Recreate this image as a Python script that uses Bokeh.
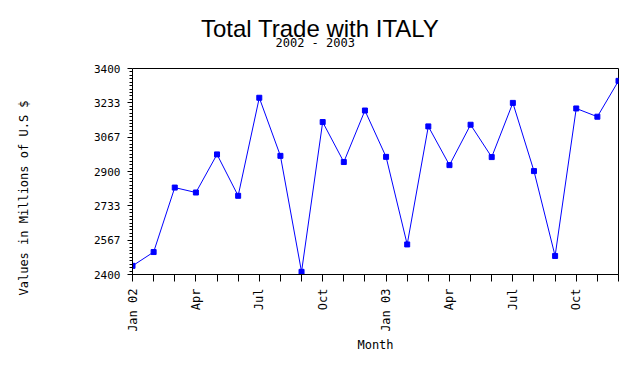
import math
from bokeh.plotting import figure
from bokeh.models import (Range1d, FixedTicker, CustomJSTickFormatter, Title,
                          LinearAxis)
from bokeh.embed import file_html
from bokeh.resources import INLINE

# ---- data ----
month_index = list(range(24))
month_names = ["Jan 02", "Feb 02", "Mar 02", "Apr 02", "May 02", "Jun 02",
               "Jul 02", "Aug 02", "Sep 02", "Oct 02", "Nov 02", "Dec 02",
               "Jan 03", "Feb 03", "Mar 03", "Apr 03", "May 03", "Jun 03",
               "Jul 03", "Aug 03", "Sep 03", "Oct 03", "Nov 03", "Dec 03"]
tick_labels = ["Jan 02", "", "", "Apr", "", "", "Jul", "", "", "Oct", "", "",
               "Jan 03", "", "", "Apr", "", "", "Jul", "", "", "Oct", "", ""]
trade_values = [2442, 2509, 2822, 2798, 2983, 2782, 3258, 2976, 2413, 3140,
                2946, 3196, 2971, 2546, 3119, 2931, 3127, 2970, 3233, 2902,
                2490, 3206, 3166, 3340]
y_ticks = [2400, 2400 + 1000 / 6, 2400 + 2000 / 6, 2900, 2400 + 4000 / 6,
           2400 + 5000 / 6, 3400]

title_text = "Total Trade with ITALY"
subtitle_text = "2002 - 2003"
y_label_text = "Values in Millions of U.S $"
x_label_text = "Month"

MONO = "DejaVu Sans Mono"
BLUE = "#0000ff"

W, H = 620, 354
FL, FR, FT, FB = 132, 618, 68, 276  # frame edges in canvas px

p = figure(width=W, height=H, output_backend="svg", toolbar_location=None,
           x_range=Range1d(0, 23), y_range=Range1d(2400, 3400),
           min_border_left=FL, min_border_right=W - FR,
           min_border_top=FT, min_border_bottom=H - FB)
p.grid.visible = False
p.outline_line_color = "black"
p.outline_line_width = 1
p.background_fill_color = "white"
p.border_fill_color = "white"

p.line(month_index, trade_values, line_color=BLUE, line_width=1)
p.scatter(month_index, trade_values, marker="square", size=5,
          fill_color=BLUE, line_color=BLUE)

# x axis
xa = p.xaxis[0]
xa.ticker = FixedTicker(ticks=month_index, minor_ticks=[])
xa.formatter = CustomJSTickFormatter(args=dict(labels=tick_labels),
                                     code="return labels[Math.round(tick)] || ''")
xa.major_label_orientation = math.pi / 2
xa.major_tick_out = 7
xa.major_tick_in = 0
xa.minor_tick_out = 0
xa.major_label_standoff = 7
xa.major_label_text_font = MONO
xa.major_label_text_font_size = "12px"
xa.major_label_text_color = "black"
xa.axis_line_color = "black"
xa.axis_label = x_label_text
xa.axis_label_standoff = 3
xa.axis_label_text_font = MONO
xa.axis_label_text_font_size = "12px"
xa.axis_label_text_font_style = "normal"
xa.axis_label_text_color = "black"

# y axis
minor = []
for i in range(6):
    a = y_ticks[i]
    b = y_ticks[i + 1]
    for k in range(1, 10):
        minor.append(a + (b - a) * k / 10)
ya = p.yaxis[0]
ya.ticker = FixedTicker(ticks=y_ticks, minor_ticks=minor)
ya.formatter = CustomJSTickFormatter(code="return Math.round(tick).toString()")
ya.major_tick_out = 5
ya.major_tick_in = 0
ya.minor_tick_out = 3
ya.minor_tick_in = 0
ya.major_label_standoff = 7
ya.major_label_text_font = MONO
ya.major_label_text_font_size = "11px"
ya.major_label_text_baseline = "top"
ya.major_label_text_color = "black"
ya.axis_line_color = "black"


def spacer(size, side, at):
    # blank axis (one invisible tick, no label) used only to reserve space
    ax = LinearAxis(ticker=FixedTicker(ticks=[at], minor_ticks=[]),
                    formatter=CustomJSTickFormatter(code="return ''"),
                    major_tick_out=size, major_tick_in=0,
                    minor_tick_out=0, minor_tick_in=0,
                    major_label_standoff=0,
                    major_label_text_font_size="0px",
                    axis_line_color=None, major_tick_line_color="white",
                    minor_tick_line_color=None)
    p.add_layout(ax, side)


# left: y axis | spacer | y label title
spacer(60, "left", 2400)
ylab = Title(text=y_label_text, align="left", offset=-21,
             vertical_align="middle", standoff=0,
             text_font=MONO, text_font_size="12px",
             text_font_style="normal", text_color="black")
p.add_layout(ylab, "left")

# top: spacer | subtitle | title
spacer(19, "above", 0)
sub = Title(text=subtitle_text, align="left", offset=143,
            vertical_align="bottom", standoff=0,
            text_font=MONO, text_font_size="12px",
            text_font_style="normal", text_color="black")
p.add_layout(sub, "above")
main = Title(text=title_text, align="left", offset=68.5,
             vertical_align="bottom", standoff=0,
             text_font="Liberation Sans", text_font_size="24px",
             text_font_style="normal", text_color="black")
try:
    main.standoff = -17
except Exception:
    main.standoff = 0
p.add_layout(main, "above")

open("out.html", "w").write(file_html(p, INLINE))
